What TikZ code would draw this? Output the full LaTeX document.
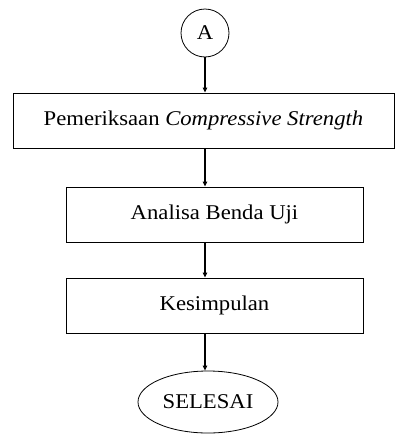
\documentclass[tikz,border=0pt]{standalone}
\usepackage{fontspec}
\setmainfont{Liberation Serif}[FakeStretch=1.08]
\usetikzlibrary{shapes.geometric,arrows.meta}
\tikzset{
  box/.style={draw, line width=1pt, minimum height=55pt, inner sep=0pt},
  conn/.style={draw, line width=1.1pt, -{Triangle[length=5pt,width=4.5pt]}},
  lbl/.style={font=\fontsize{21}{24}\selectfont}
}
\begin{document}
\begin{tikzpicture}[x=1pt,y=-1pt]
\useasboundingbox (0,0) rectangle (395,434);
\node[draw, circle, line width=0.8pt, minimum size=48pt, inner sep=0pt, lbl] (A) at (205,33) {A};
\node[box, minimum width=381pt, lbl] (b1) at (203.5,120.5) {Pemeriksaan \textit{Compressive Strength}};
\node[box, minimum width=297pt, lbl] (b2) at (214.5,214.5) {Analisa Benda Uji};
\node[box, minimum width=297pt, lbl] (b3) at (214.5,305.5) {Kesimpulan};
\node[draw, ellipse, line width=0.8pt, minimum width=140pt, minimum height=62pt, inner sep=0pt, lbl] (sel) at (208,402) {SELESAI};
\draw[conn] (A) -- (A |- b1.north);
\draw[conn] (b1.south -| A) -- (b2.north -| A);
\draw[conn] (b2.south -| A) -- (b3.north -| A);
\draw[conn] (b3.south -| A) -- (A |- sel.north);
\end{tikzpicture}
\end{document}
